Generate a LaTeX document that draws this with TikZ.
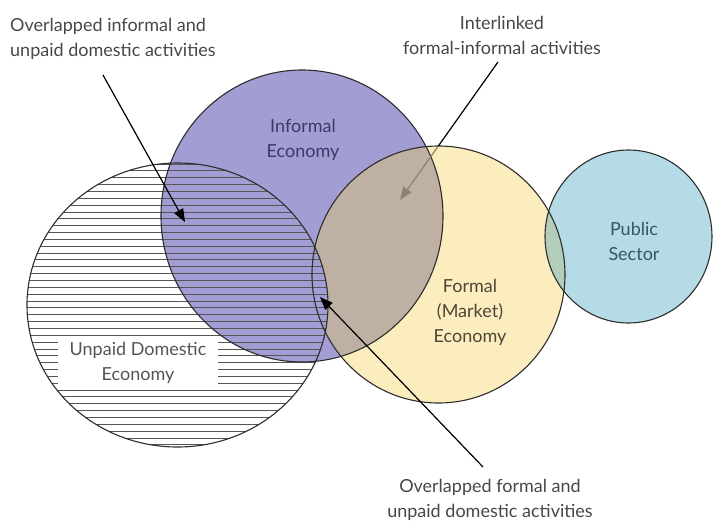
\documentclass[tikz,border=0pt]{standalone}
\usepackage{fontspec}
\setmainfont{Lato}
\usetikzlibrary{arrows.meta}

\definecolor{informalfill}{HTML}{A29DD3}
\definecolor{formalfill}{HTML}{FCEDBE}
\definecolor{publicfill}{HTML}{B5DBE6}
\definecolor{linkfill}{HTML}{BEB0A2}
\definecolor{pubformfill}{HTML}{B3CDBB}
\definecolor{outline}{HTML}{2D2D2D}
\definecolor{labeltext}{HTML}{474747}
\definecolor{informaltext}{HTML}{3D3A66}
\definecolor{formaltext}{HTML}{4B4636}
\definecolor{publictext}{HTML}{3B5561}
\definecolor{unpaidtext}{HTML}{555555}
\definecolor{hatchline}{HTML}{555555}
\definecolor{fadedarrow}{HTML}{8A8572}

% sector outlines
\newcommand\InformalPath{(302,216) ellipse [x radius=141pt, y radius=146pt]}
\newcommand\UnpaidPath{(177.5,305) ellipse [x radius=150.5pt, y radius=142pt]}
\newcommand\FormalPath{(438.5,274.5) ellipse [x radius=126.5pt, y radius=128.5pt]}
\newcommand\PublicPath{(628.5,236.5) ellipse [x radius=83.5pt, y radius=86.5pt]}

\tikzset{
  edgeline/.style={draw=outline, line width=1.1pt},
  hatch/.style={draw=hatchline, line width=0.9pt},
  labeltxt/.style={font=\fontsize{18}{25}\selectfont, align=center, inner sep=0pt},
  pointer/.style={line width=1.2pt, -{Triangle[length=13pt,width=10pt]}},
}

\begin{document}
\begin{tikzpicture}[x=1pt, y=-1pt]
\useasboundingbox (0,0) rectangle (713,525);

% base fills
\fill[formalfill] \FormalPath;
\fill[publicfill] \PublicPath;
\begin{scope}
  \clip \FormalPath;
  \fill[pubformfill] \PublicPath;
\end{scope}
\fill[informalfill] \InformalPath;
\begin{scope}
  \clip \FormalPath;
  \fill[linkfill] \InformalPath;
\end{scope}

% unpaid domestic economy: hatched disc
\begin{scope}
  \clip \UnpaidPath;
  \fill[white] \UnpaidPath;
  \fill[informalfill] \InformalPath;
  \foreach \yy in {0,...,42} {
    \draw[hatch] (20,{164+6.85*\yy}) -- (340,{164+6.85*\yy});
  }
\end{scope}

% outlines
\draw[edgeline] \FormalPath;
\draw[edgeline] \PublicPath;
\draw[edgeline] \InformalPath;
\draw[edgeline] \UnpaidPath;

% sector labels
\node[labeltxt, text=informaltext] (informal) at (303,140) {Informal\\Economy};
\node[labeltxt, text=formaltext] (formal) at (470,312) {Formal\\(Market)\\Economy};
\node[labeltxt, text=publictext] (public) at (634,241) {Public\\Sector};
\node[labeltxt, text=unpaidtext, fill=white, minimum width=160pt, minimum height=47pt]
  (unpaid) at (138,362.5) {Unpaid Domestic\\Economy};

% callout labels
\node[labeltxt, text=labeltext, align=left, anchor=north west] (calloutA) at (10,18)
  {Overlapped informal and\\unpaid domestic activities};
\node[labeltxt, text=labeltext] (calloutB) at (502,35)
  {Interlinked\\formal-informal activities};
\node[labeltxt, text=labeltext] (calloutC) at (490,500)
  {Overlapped formal and\\unpaid domestic activities};

% pointer ends
\coordinate (pA0) at (103,75);
\coordinate (pA1) at (185,222);
\coordinate (pB0) at (498,62);
\coordinate (pBm) at (438.2,146.2);
\coordinate (pB1) at (400,200);
\coordinate (pC0) at (483,467);
\coordinate (pC1) at (320,297);

\draw[pointer, draw=black, fill=black] (pA0) -- (pA1);
\draw[line width=1.2pt, draw=black] (pB0) -- (pBm);
\draw[pointer, draw=fadedarrow, fill=fadedarrow] (pBm) -- (pB1);
\draw[pointer, draw=black, fill=black] (pC0) -- (pC1);
\end{tikzpicture}
\end{document}
